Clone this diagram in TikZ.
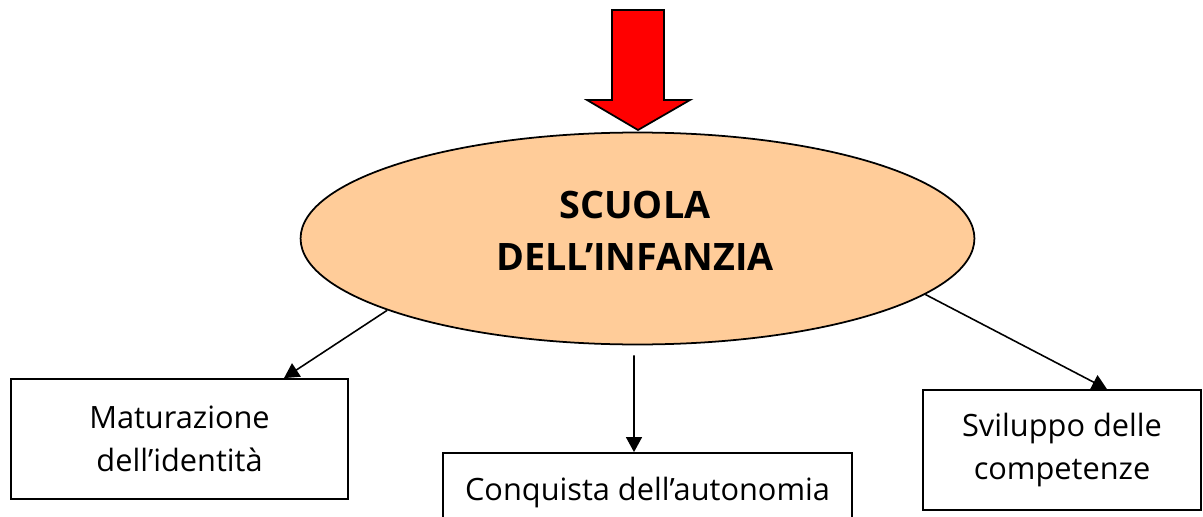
\documentclass[tikz,border=0pt]{standalone}
\usepackage{fontspec}
\setmainfont{Open Sans}
\usetikzlibrary{arrows.meta,shapes.geometric}
\definecolor{peach}{HTML}{FFCC99}
\definecolor{arrowred}{HTML}{FF0000}
\tikzset{
  box/.style={draw=black, line width=1pt, rectangle, align=center, font=\fontsize{17.5}{24.5}\selectfont, inner sep=0pt},
  conn/.style={draw=black, line width=0.9pt, -{Triangle[width=9pt,length=8.5pt]}},
}
\begin{document}
\begin{tikzpicture}[x=0.02cm, y=-0.02cm]
\useasboundingbox (0,0) rectangle (1203,517);
% red arrow
\draw[fill=arrowred, draw=black, line width=1pt, line join=miter]
  (612,10) -- (664,10) -- (664,100) -- (690,100) -- (638,130) -- (587,100) -- (612,100) -- cycle;
% ellipse
\node[ellipse, draw=black, line width=1pt, fill=peach, minimum width=13.48cm, minimum height=4.24cm, inner sep=0pt] (ell) at (637.5,238.5) {};
\node[align=center, inner sep=0pt, font=\bfseries\fontsize{21.5}{29.6}\selectfont] (t) at (635,231) {SCUOLA\\DELL’INFANZIA};
% boxes
\node[box, minimum width=6.74cm, minimum height=2.4cm] (m) at (179.5,439) {Maturazione\\dell’identità};
\node[box, minimum width=8.18cm, minimum height=1.6cm] (c) at (647.5,493) {Conquista dell’autonomia};
\node[box, minimum width=5.56cm, minimum height=2.4cm] (s) at (1062,450) {Sviluppo delle\\competenze};
% connectors
\draw[conn] (ell.196) -- ([xshift=2.09cm]m.north);
\draw[conn] ([shift={(-0.07cm,-0.2cm)}]ell.south) -- ([xshift=-0.27cm]c.north);
\draw[conn] (ell.349) -- ([xshift=0.9cm]s.north);
\end{tikzpicture}
\end{document}
